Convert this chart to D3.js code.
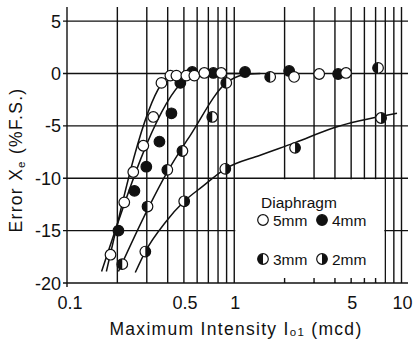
<!DOCTYPE html>
<html>
<head>
<meta charset="utf-8">
<script src="https://cdn.jsdelivr.net/npm/d3@7"></script>
<style>
  body { margin: 0; background: #fff; }
  svg { display: block; }
  text { font-family: "Liberation Sans", Arial, sans-serif; fill: #111; }
</style>
</head>
<body>
<div id="chart"></div>
<script>
// 1: DATA
const xGrid = [0.2, 0.3, 0.4, 0.5, 0.6, 0.7, 0.8, 0.9, 1, 2, 3, 4, 5, 6, 7, 8, 9, 10];
const xLabelValues = [0.1, 0.5, 1, 5, 10];
const xLabelText = ["0.1", "0.5", "1", "5", "10"];
const yTicks = [5, 0, -5, -10, -15, -20];

// measured points [intensity mcd, error %F.S.]
const open5mm = [[0.182, -17.3], [0.220, -12.3], [0.249, -9.4], [0.286, -6.9], [0.328, -4.15],
  [0.367, -0.9], [0.415, -0.2], [0.451, -0.2], [0.517, -0.2], [0.577, -0.2], [0.662, 0.05],
  [0.836, 0.05], [2.28, -0.33], [3.22, -0.05], [4.66, 0.05]];
const filled4mm = [[0.203, -15.0], [0.253, -11.2], [0.298, -8.9], [0.357, -6.5], [0.421, -3.8],
  [0.476, -0.9], [0.561, 0.14], [0.750, 0.05], [1.16, 0.14], [2.13, 0.24], [4.18, -0.05]];
const half3mm = [[0.214, -18.2], [0.303, -12.7], [0.398, -9.2], [0.490, -7.4], [0.739, -4.15],
  [0.896, -0.9], [1.64, -0.33], [7.24, 0.53]];
const half2mm = [[0.294, -17.0], [0.502, -12.2], [0.884, -9.1], [2.31, -7.1], [7.55, -4.25]];

// hand drawn fit lines
const fit5mm = [[0.172, -18.9], [0.367, -1.0], [0.404, -0.2], [0.45, 0], [0.7, 0]];
const fit4mm = [[0.161, -18.9], [0.476, -1.0], [0.546, -0.14], [0.63, 0], [1.2, 0]];
const fit3mm = [[0.203, -18.9], [0.303, -13.0], [0.398, -9.4], [0.546, -5.9], [0.896, -0.9], [1.13, -0.14], [1.43, 0]];
const fit2mm = [[0.256, -19.0], [0.294, -17.0], [0.388, -14.2], [0.502, -12.2], [0.644, -10.8],
  [0.884, -9.1], [1.43, -7.8], [2.31, -6.6], [3.90, -5.2], [9.40, -3.8]];

// 2: SVG + SCALES
const W = 415, H = 342;
const svg = d3.select("#chart").append("svg").attr("width", W).attr("height", H);

const x = d3.scaleLog().domain([0.1, 10]).range([67, 401.5]);
const y = d3.scaleLinear().domain([-20, 5]).range([283, 21.1]);
const gridTop = 7, gridRight = 408;
const ink = "#111";

// 3: GRID
const grid = svg.append("g").attr("stroke", ink).attr("stroke-width", 1.4);
grid.selectAll(".hl").data(yTicks).enter().append("line")
  .attr("x1", x(0.1) - 4).attr("x2", gridRight)
  .attr("y1", d => y(d)).attr("y2", d => y(d));
grid.selectAll(".vl").data(xGrid).enter().append("line")
  .attr("x1", d => x(d)).attr("x2", d => x(d))
  .attr("y1", gridTop).attr("y2", y(-20));
// left axis
grid.append("line").attr("x1", x(0.1)).attr("x2", x(0.1)).attr("y1", gridTop).attr("y2", y(-20) + 4);

// legend box clears the grid
svg.append("rect")
  .attr("x", x(1) + 1).attr("y", y(-10) + 1)
  .attr("width", x(8) - x(1) - 2).attr("height", y(-20) - y(-10) - 2)
  .attr("fill", "#fff");
svg.append("g").attr("stroke", ink).attr("stroke-width", 1.4)
  .selectAll("line").data([2, 3, 4, 5, 6, 7]).enter().append("line")
  .attr("x1", d => x(d)).attr("x2", d => x(d))
  .attr("y1", y(-20)).attr("y2", y(-20) - 5);

// 4: AXIS LABELS
svg.selectAll(".ylab").data(yTicks).enter().append("text")
  .attr("x", 61).attr("y", d => y(d) + 6.5)
  .attr("text-anchor", "end").attr("font-size", 18)
  .text(d => d < 0 ? "-" + Math.abs(d) : d);
svg.selectAll(".xlab").data(xLabelValues).enter().append("text")
  .attr("x", (d, i) => x(d) + (i === 0 ? 3 : 1)).attr("y", 309)
  .attr("text-anchor", "middle").attr("font-size", 18)
  .text((d, i) => xLabelText[i]);

const xt = svg.append("text").attr("x", 236).attr("y", 335)
  .attr("text-anchor", "middle").attr("font-size", 17.5).attr("letter-spacing", 1.3);
xt.append("tspan").text("Maximum Intensity I");
xt.append("tspan").attr("font-size", 11.5).attr("dy", 1).text("o1");
xt.append("tspan").attr("dy", -1).text(" (mcd)");

const yt = svg.append("text").attr("transform", "translate(22,160) rotate(-90)")
  .attr("text-anchor", "middle").attr("font-size", 17.5).attr("letter-spacing", 1.3);
yt.append("tspan").text("Error X");
yt.append("tspan").attr("font-size", 11.5).attr("dy", 3).text("e");
yt.append("tspan").attr("dy", -3).text(" (%F.S.)");

// 5: FIT LINES
const line = d3.line().x(d => x(d[0])).y(d => y(d[1])).curve(d3.curveMonotoneX);
svg.append("g").attr("fill", "none").attr("stroke", ink).attr("stroke-width", 1.5)
  .selectAll("path").data([fit5mm, fit4mm, fit3mm, fit2mm]).enter().append("path")
  .attr("d", line);

// 6: MARKERS
const r = 5.3;
const halfArc = (left) => d3.arc().innerRadius(0).outerRadius(r)
  .startAngle(left ? Math.PI : 0).endAngle(left ? 2 * Math.PI : Math.PI)();

function drawMarker(g, kind) {
  g.append("circle").attr("r", r)
    .attr("fill", kind === "filled" ? ink : "#fff")
    .attr("stroke", ink).attr("stroke-width", 1.2);
  if (kind === "left" || kind === "right") {
    g.append("path").attr("d", halfArc(kind === "left")).attr("fill", ink);
  }
}

const series = [
  { data: half2mm, kind: "right" },
  { data: half3mm, kind: "left" },
  { data: filled4mm, kind: "filled" },
  { data: open5mm, kind: "open" }
];
series.forEach(s => {
  svg.append("g").selectAll("g").data(s.data).enter().append("g")
    .attr("transform", d => `translate(${x(d[0])},${y(d[1])})`)
    .each(function () { drawMarker(d3.select(this), s.kind); });
});

// 7: LEGEND
const legend = svg.append("g").attr("font-size", 15.5);
legend.append("text").attr("x", 261).attr("y", 208).text("Diaphragm");
const legendItems = [
  { kind: "open", label: "5mm", lx: 263, ly: 220 },
  { kind: "filled", label: "4mm", lx: 322, ly: 220 },
  { kind: "left", label: "3mm", lx: 263, ly: 259 },
  { kind: "right", label: "2mm", lx: 322, ly: 259 }
];
legendItems.forEach(it => {
  const g = legend.append("g").attr("transform", `translate(${it.lx},${it.ly})`);
  drawMarker(g, it.kind);
  legend.append("text").attr("x", it.lx + 10).attr("y", it.ly + 5.5).text(it.label);
});
</script>
</body>
</html>
